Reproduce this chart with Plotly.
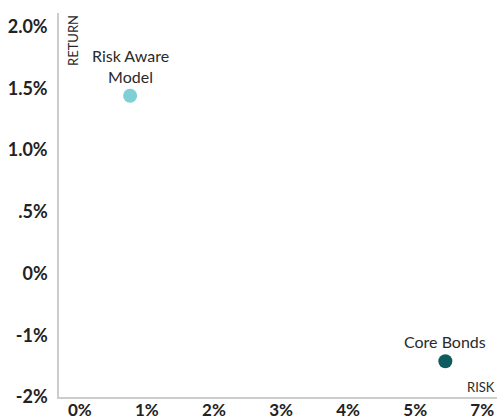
import plotly.graph_objects as go

names = ["Risk Aware<br>Model", "Core Bonds"]
risk = [0.75, 5.45]
ret = [1.44, -0.71]
colors = ["#7FCFD6", "#0F5C5E"]

x_tickvals = [0, 1, 2, 3, 4, 5, 6]
x_ticktext = ["0%", "1%", "2%", "3%", "4%", "5%", "7%"]
y_tickvals = [2, 1.5, 1, 0.5, 0, -0.5, -1]
y_ticktext = ["2.0%", "1.5%", "1.0%", ".5%", "0%", "-1%", "-2%"]

fig = go.Figure()
fig.add_trace(go.Scatter(
    x=risk, y=ret, mode="markers",
    marker=dict(size=14, color=colors),
    hoverinfo="skip", showlegend=False,
))
for n, xv, yv in zip(names, risk, ret):
    fig.add_annotation(x=xv, y=yv, text=n, showarrow=False, yanchor="bottom",
                       yshift=8, font=dict(family="Lato", size=16, color="#2a2a2a"))

fig.add_annotation(xref="paper", yref="paper", x=0.008, y=1.0, text="RETURN",
                   textangle=-90, showarrow=False, xanchor="left", yanchor="top",
                   font=dict(family="Lato", size=13, color="#2a2a2a"))
fig.add_annotation(xref="paper", yref="paper", x=1.0, y=0.0, text="RISK",
                   showarrow=False, xanchor="right", yanchor="bottom", yshift=0,
                   font=dict(family="Lato", size=13, color="#2a2a2a"))

fig.update_xaxes(range=[-0.31, 6.22], tickvals=x_tickvals, ticktext=x_ticktext,
                 showgrid=False, zeroline=False, showline=True, linecolor="#cccccc",
                 linewidth=1.5, ticks="", automargin=False, ticklabelstandoff=-3,
                 tickfont=dict(family="Lato", size=17, color="#222", weight="bold"))
fig.update_yaxes(range=[-1, 2.11], tickvals=y_tickvals, ticktext=y_ticktext,
                 showgrid=False, zeroline=False, showline=True, linecolor="#cccccc",
                 linewidth=1.5, ticks="", ticklabelstandoff=6, automargin=False,
                 tickfont=dict(family="Lato", size=18, color="#222", weight="bold"))
fig.update_layout(width=498, height=419, margin=dict(l=59, r=1, t=13, b=22),
                  plot_bgcolor="white", paper_bgcolor="white")
fig.write_html("out.html")
